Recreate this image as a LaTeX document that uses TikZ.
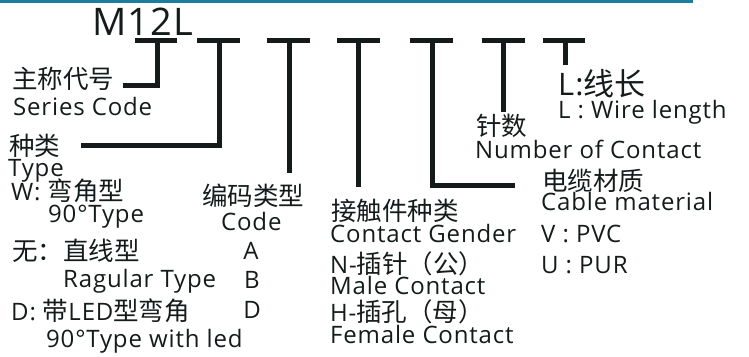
\documentclass[tikz,border=0pt]{standalone}
\usepackage{fontspec}
\setmainfont{Open Sans}[LetterSpace=3.5]
\newfontfamily\cjk{Noto Sans CJK SC}
\definecolor{topline}{HTML}{1A7F9E}
\definecolor{inkc}{HTML}{151B1B}
\newcommand{\zhtxt}[1]{{\fontsize{25.5}{25.5}\selectfont\cjk #1}}
\begin{document}
\begin{tikzpicture}[x=1pt,y=-1pt,
  en/.style={anchor=base west, inner sep=0, font=\fontsize{24}{24}\selectfont, text=inkc},
  zh/.style={anchor=base west, inner sep=0, font=\fontsize{25.5}{25.5}\selectfont\cjk, text=inkc},
  ctr/.style={anchor=base, inner sep=0, font=\fontsize{24}{24}\selectfont, text=inkc},
  bar/.style={line width=5pt, draw=inkc, line join=miter}]
\useasboundingbox (0,0) rectangle (749,356);
\fill[topline] (0,0) rectangle (693,2.5);
% title
\node[anchor=base west, inner sep=0, font=\fontsize{38}{38}\selectfont, text=inkc] (title) at (92,35) {M12L};
% bar coordinates
\foreach \i/\l/\m/\r in {1/135/157/177, 2/197/219/240, 3/267/289/310, 4/337/358/380, 5/410/432/453, 6/482/503/525, 7/543/565/585}{
  \coordinate (b\i l) at (\l,40);
  \coordinate (b\i m) at (\m,40);
  \coordinate (b\i r) at (\r,40);
}
\coordinate (e1) at (123,85);
\coordinate (e2) at (81,145);
\coordinate (e3) at (289,173);
\coordinate (e4) at (358,187);
\coordinate (e5) at (515,185);
\coordinate (e6) at (503,112);
\coordinate (e7) at (565,65);
\foreach \i in {1,...,7}{ \draw[bar] (b\i l) -- (b\i r); }
\draw[bar] (b1m) |- (e1);
\draw[bar] (b2m) |- (e2);
\draw[bar] (b3m) -- (e3);
\draw[bar] (b4m) -- (e4);
\draw[bar] (b5m) |- (e5);
\draw[bar] (b6m) -- (e6);
\draw[bar] (b7m) -- (e7);
% series code
\node[zh] (sc1) at (12,88) {主称代号};
\node[en] (sc2) at (13,115) {Series Code};
% type
\node[zh] (ty1) at (9,155) {种类};
\node[en] (ty2) at (8,176) {Type};
\node[en] (ty3) at (11,200) {W: \zhtxt{弯角型}};
\node[en] (ty4) at (48,222) {90°Type};
\node[en] (ty5) at (12,260) {\zhtxt{无：直线型}};
\node[en] (ty6) at (63,287) {Ragular Type};
\node[en] (ty7) at (11,320) {D: \zhtxt{带}LED\zhtxt{型弯角}};
\node[en] (ty8) at (46,347) {90°Type with led};
% code
\node[zh] (cd1) at (202,205) {编码类型};
\node[en] (cd2) at (221,230) {Code};
\node[ctr] (cd3) at (251,259) {A};
\node[ctr] (cd4) at (252,288) {B};
\node[ctr] (cd5) at (252,318) {D};
% contact gender
\node[zh] (cg1) at (331,220) {接触件种类};
\node[en] (cg2) at (330,242) {Contact Gender};
\node[en] (cg3) at (330,273) {N-\zhtxt{插针（公）}};
\node[en] (cg4) at (330,294) {Male Contact};
\node[en] (cg5) at (330,321) {H-\zhtxt{插孔（母）}};
\node[en] (cg6) at (330,343) {Female Contact};
% cable material
\node[zh] (cm1) at (542,190) {电缆材质};
\node[en] (cm2) at (541,210) {Cable material};
\node[en] (cm3) at (541,242) {V : PVC};
\node[en] (cm4) at (541,273) {U : PUR};
% number of contact
\node[zh] (nc1) at (476,135) {针数};
\node[en] (nc2) at (475,158) {Number of Contact};
% wire length
\node[anchor=base west, inner sep=0, font=\fontsize{31}{31}\selectfont, text=inkc] (wl1) at (558,95) {L:{\cjk 线长}};
\node[en] (wl2) at (558,118) {L : Wire length};
\end{tikzpicture}
\end{document}
